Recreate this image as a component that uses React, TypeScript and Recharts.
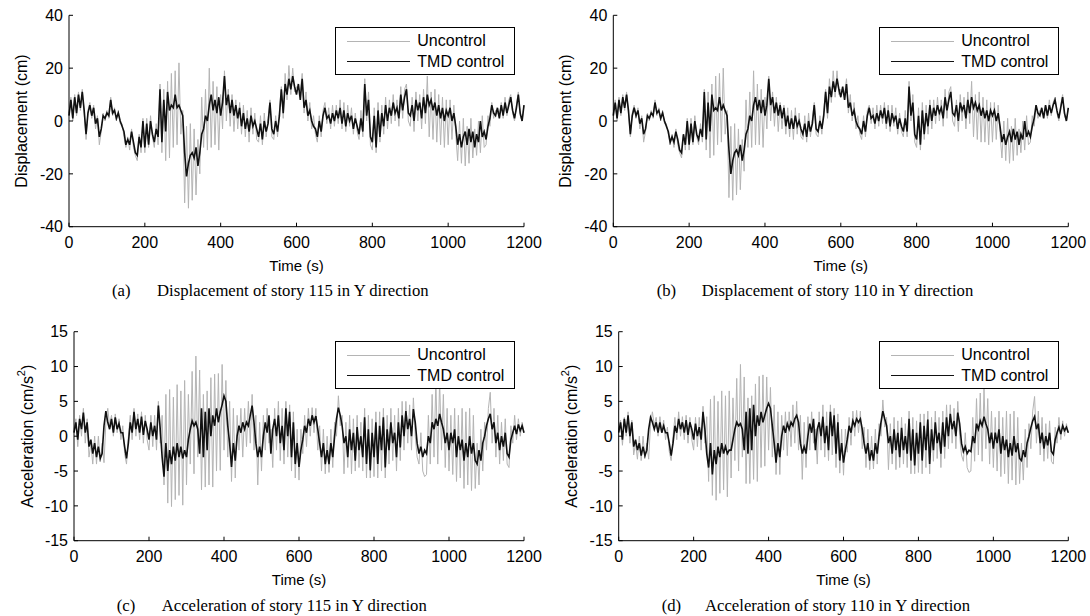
import React from 'react';
import { LineChart, Line, XAxis, YAxis, Legend } from 'recharts';

// sampling interval of the time histories (s)
const SAMPLE_STEP_S = 5;
const TIME_TICKS = [0, 200, 400, 600, 800, 1000, 1200];
const DISP_TICKS = [-40, -20, 0, 20, 40];
const ACC_TICKS = [-15, -10, -5, 0, 5, 10, 15];
const SERIES_NAMES = ['Uncontrol', 'TMD control'];

// (a) displacement, story 115 (cm)
const A_UNC = [
  3, 9, 0, 10, 2, 11, 4, 12, 3, -7, 4, 7, 1, 6, -3, 2, -9, -4, 3, 0,
  4, 1, 9, 2, 5, 0, 4, -1, -1, -6, -10, -6, -11, -3, -10, -13, -15, -5, -12, 1,
  -12, 1, -10, 2, -6, -10, -1, -9, 14, -12, 12, -15, 15, -14, 18, -10, 19, -9, 22, -5,
  4, -31, -2, -33, -1, -30, -3, -28, -7, -20, 9, -10, 12, -11, 20, -10, 15, -9, 13, -11,
  10, -3, 19, 0, 12, -2, 10, -4, 8, -3, 7, -5, 6, -6, 4, -8, 5, -5, 3, -7,
  -8, 2, -9, 3, -6, 1, 8, -6, -7, 2, -6, 4, 13, 1, 18, 8, 21, 10, 20, 11,
  13, 12, 11, 18, 3, 11, 0, 7, -3, 2, -5, -8, 2, -6, 4, 7, -1, 5, -3, 6,
  -2, 6, -1, 8, -3, 7, -4, 6, -2, 5, -5, 3, -4, -7, 4, -6, 16, 0, 11, -9,
  -11, 5, -12, 7, -8, 6, -5, 9, -3, 8, -1, 10, 0, 8, -2, 13, 1, 12, 14, 0,
  -2, 9, -4, 11, 0, 10, -3, 12, -1, 17, -6, 11, -7, 12, -8, 10, -9, 9, -10, 8,
  -9, 8, -7, 6, -5, -15, 0, -16, 1, -17, -2, -16, 1, -14, -3, -13, 0, -12, 2, -10,
  -9, 2, -2, 7, 1, 4, 3, 2, 7, 1, 9, 2, 8, 10, 3, 0, 6, 11, 2, 0,
  6,
];
const A_TMD = [
  2, 8, 1, 9, 3, 10, 5, 11, 4, -5, 3, 6, 2, 5, -1, 1, -6, -3, 2, 1,
  3, 2, 8, 3, 4, 1, 3, 0, -2, -4, -9, -7, -9, -4, -8, -12, -13, -6, -10, 0,
  -10, -1, -9, 0, -5, -8, -3, -6, 12, -8, 8, -4, 11, 4, 6, 5, 10, 5, 6, 4,
  2, -12, -21, -16, -13, -12, -14, -10, -17, -12, -5, -3, 2, 0, 6, 10, 4, 8, 3, 9,
  2, 7, 17, 6, 10, 3, 8, 2, 6, 1, 5, -2, 3, -3, 1, -4, 2, -2, 0, -3,
  -6, -1, -7, 0, -4, -1, 7, -3, -5, 0, -4, 2, 12, 3, 14, 10, 16, 12, 17, 13,
  10, 14, 8, 16, 5, 8, 2, 4, 0, -2, -3, -6, 0, -4, 2, 5, 1, 2, -1, 3,
  0, 4, 1, 5, -1, 4, -2, 3, 0, 2, -3, 1, -2, -5, 1, -4, 14, 2, 8, -6,
  -8, 2, -10, 4, -6, 3, -2, 6, 0, 5, 2, 7, 3, 5, 1, 10, 4, 9, 12, 3,
  2, 6, 0, 8, 4, 7, 1, 9, 3, 10, 6, 8, 4, 7, 2, 6, 1, 5, 0, 4,
  2, 5, 0, 3, -2, -9, -5, -10, -6, -4, -9, -3, -8, -4, -10, -5, -8, 0, -6, -4,
  -7, -2, 1, 6, 3, 2, 5, 1, 6, 2, 7, 3, 6, 9, 4, 1, 5, 10, 3, 0,
  6,
];

// (b) displacement, story 110 (cm)
const B_UNC = [
  3, 8, 0, 9, 2, 10, 4, 11, 3, -6, 3, 6, 1, 5, -3, 2, -8, -4, 3, 0,
  4, 1, 8, 2, 5, 0, 4, -1, -1, -5, -9, -5, -10, -3, -9, -12, -14, -5, -11, 1,
  -11, 1, -9, 2, -6, -9, -1, -8, 12, -11, 11, -14, 14, -13, 17, -9, 18, -8, 20, -5,
  4, -29, -2, -30, -1, -28, -3, -26, -7, -19, 8, -10, 11, -10, 19, -9, 14, -9, 12, -10,
  9, -3, 17, 0, 11, -2, 9, -4, 7, -3, 6, -5, 5, -6, 4, -7, 5, -5, 3, -6,
  -7, 2, -8, 3, -6, 1, 7, -5, -6, 2, -5, 4, 12, 1, 16, 7, 19, 9, 19, 10,
  12, 11, 10, 16, 3, 10, 0, 7, -3, 2, -5, -7, 2, -6, 4, 6, -1, 5, -3, 6,
  -2, 6, -1, 7, -3, 6, -4, 6, -2, 5, -5, 3, -4, -6, 4, -6, 15, 0, 10, -8,
  -10, 5, -11, 7, -7, 6, -5, 8, -3, 8, -1, 9, 0, 8, -2, 12, 1, 11, 13, 0,
  -2, 8, -4, 10, 0, 9, -3, 11, -1, 15, -6, 10, -7, 11, -8, 9, -8, 8, -9, 7,
  -8, 7, -7, 6, -5, -14, 0, -15, 1, -16, -2, -15, 1, -13, -3, -12, 0, -11, 2, -9,
  -8, 2, -2, 6, 1, 4, 3, 2, 6, 1, 8, 2, 7, 9, 3, 0, 6, 10, 2, 0,
  5,
];
const B_TMD = [
  2, 7, 1, 8, 3, 9, 5, 10, 4, -5, 2, 5, 2, 4, -1, 1, -5, -3, 2, 1,
  3, 2, 7, 3, 4, 1, 3, 0, -2, -4, -8, -6, -8, -4, -7, -11, -12, -5, -9, 0,
  -9, -1, -8, 0, -5, -7, -3, -6, 11, -7, 7, -4, 10, 4, 5, 4, 9, 4, 6, 4,
  2, -11, -20, -15, -12, -11, -13, -9, -15, -11, -5, -3, 2, 0, 6, 9, 4, 8, 3, 8,
  2, 6, 16, 6, 9, 3, 7, 2, 6, 1, 5, -2, 2, -3, 1, -3, 2, -2, 0, -3,
  -5, -1, -6, 0, -4, -1, 6, -3, -4, 0, -3, 2, 11, 3, 13, 9, 15, 11, 16, 12,
  9, 13, 8, 14, 5, 7, 2, 4, 0, -2, -3, -5, 0, -4, 2, 5, 1, 2, -1, 3,
  0, 4, 1, 5, -1, 4, -2, 3, 0, 2, -3, 1, -2, -4, 1, -4, 13, 2, 7, -5,
  -7, 2, -9, 4, -5, 3, -2, 6, 0, 5, 2, 6, 3, 5, 1, 9, 4, 8, 11, 3,
  2, 6, 0, 7, 4, 6, 1, 8, 3, 9, 5, 7, 4, 6, 2, 5, 1, 4, 0, 4,
  2, 4, 0, 3, -2, -8, -5, -9, -6, -4, -8, -3, -7, -4, -9, -5, -7, 0, -6, -4,
  -6, -2, 1, 6, 3, 2, 5, 1, 6, 2, 6, 3, 6, 8, 4, 1, 5, 9, 3, 0,
  5,
];

// (c) acceleration, story 115 (cm/s^2)
const C_UNC = [
  1, 2.5, -1.5, 3, 0, 4, -1, 2.5, -3, -1, -4, 0, -4, 0, -3.7, -1, -3.8, 2, 4, 1.5,
  3, 0, 3.2, 0.5, 2.5, -0.5, 1.5, -2.5, -4, 0, 3, -0.5, 4, 0, 3.2, -0.5, 3.5, -1, 3, -0.5,
  -2, 3, -1.5, 3, -2, 5, -1, 3, -7, 6, -9.6, 6.7, -10.1, 5.6, -9.1, 7.4, -8.5, 6.5, -9.9, 8,
  -7, 6, -4, 9.3, -5.4, 11.5, -3, 9.5, -7.7, 6, -7.3, 6.5, -7, 8.4, -7.3, 8.9, -5, 9, -4.9, 10.3,
  -2, 8, -3, 5, -6.5, 4, -6, 3, -2, 4, -3, 4, -1.5, 5, -1, 6, -2, 3, -7, 2,
  -5, 3, -2, 4, -1, 1, -4.5, 4, -2, 5, -3.5, 4, -4, 5, -3, 4.5, -5, 3.5, -6, 1,
  -6.3, 1, -2.5, 3, -1.5, 4, 0, 4.1, 0.5, 4, -2, 1.5, -5, 1, -5.4, 0, -5.2, 1, -4.5, 2,
  0, 5.8, 1.5, 3, -5.4, 2, -4.5, 3, -5.4, 2.5, -5, 3, -4.5, 2, -5, 4, -6, 3, -6, 2.5,
  -5.8, 3.5, -6, 3.5, -5, 4, -6, 3, -4, 4, -3.5, 3, -5, 4, -3.5, 5, -2, 5, -1, 4.5,
  -2, 5.5, 0, -3, -4, 0.5, -5, -5.8, -5.5, 3, -4, 6, -3, 8, -4, 8, -2, 6, -4.5, 4,
  -5, 3, -5.5, 4, -6.5, 3, -6, 4, -7.5, 3.5, -7, 4, -7.8, 3, -7.5, -1, -7, 1, -5, 2,
  -2, 4, 6.3, -1, 4, -3, 3, -4, 2, -3.5, 2.5, -4, -4.5, 1.5, -1, 3, -0.5, 2.5, 0, 2,
  0.5,
];
const C_TMD = [
  0.5, 2, -0.5, 2.5, 1, 3.4, 0.5, 2, -1.5, -0.5, -2.5, -1, -3, -1.5, -3.2, -2.5, 1.5, 3.6, 2, 1,
  2.5, 0.5, 2.7, 1, 1.8, 0.5, 0.5, -1.5, -3.2, -1, 2, 0.5, 3.5, 1, 2.5, 0.5, 2.8, 0.2, 2.2, 1,
  -0.5, 2, 0, 1.5, -0.5, 4.4, 1, -3, -5.8, -1, -5, -2, -4, -1.5, -3.5, -1, -3, -1.5, -3.2, -2,
  -3, -0.5, 1, 2.2, 1.5, 2, 1, -2.5, 4, -3, 3.5, -2, 4, 0, 3, 1.5, 4, 2, 3.5, 4.5,
  5.8, 5, 1.5, -1, -4.4, -1, -3.5, 0, 1.5, 0.5, 2, 1, 2, 1.5, 3, 4.4, 2, -1, -3, -1.5,
  -3, 0, 2, 0.5, 3, -2.5, 1, 2.5, 0, 3, -1, 1.5, -2, 4, 0, 3.5, -3, 2, -4, -1,
  -4.4, -2, -0.5, 1.5, 0.5, 2.5, 1.5, 3, 2, 2.9, 1, -1, -3, -1, -4, -2, -4, -1, -3, 0,
  2.5, 4.1, 3, 1.5, -1, 0, -3, 1, -2, 0.5, -3.5, 1.3, -2, 0, -3, 2.7, -4, 1, -4.9, 0.5,
  -3, 2, -4, 1.5, -2, 2.7, -4.5, 1, -2, 2, -1, 0.5, -3, 2, -1.6, 3, 0, 3.6, 1, 2.5,
  0, 3.9, 2, -1, -2.5, -1.5, -3, -2, -2.5, 0, -1, 2, 1, 2.5, 1.5, 3.2, 2, 1, -1, 0.5,
  -2, 0.5, -1, 1, -3, 0, -2, -0.5, -3.5, -1, -3, 0, -2.5, -1, -3.5, -4, -2, -3.5, -1, 0,
  1.5, 2.5, 3.2, 1, 2, -1, 0.5, -2, 0, -1.5, 0.5, -2.5, -3, -0.5, 0.5, 1.5, 0.3, 1.7, 0.8, 1.5,
  0.5,
];

// (d) acceleration, story 110 (cm/s^2)
const D_UNC = [
  1, 2.3, -1.3, 2.7, 0, 3.5, -1, 2.3, -2.7, -1, -3.3, 0, -3.5, 0, -3.2, -1, -3.3, 1.8, 3.5, 1.5,
  2.7, 0, 2.8, 0.5, 2.3, -0.5, 1.3, -2.2, -3.5, 0, 2.7, -0.5, 3.5, 0, 2.8, -0.5, 3, -1, 2.7, -0.5,
  -2, 2.7, -1.5, 2.7, -2, 4.3, -1, 2.8, -6.5, 5.3, -8.5, 5.8, -9.2, 5, -8.2, 6.5, -7.7, 5.8, -8.7, 6.5,
  -6, 5.5, -3.5, 8.3, -5, 10.3, -3, 8.5, -6.8, 5.5, -6.8, 5.8, -6.2, 7.5, -6.5, 8.6, -4.5, 8.8, -4.3, 8.5,
  -2, 7, -3, 4.5, -5.5, 3.5, -5.5, 3, -2, 3.5, -2.8, 3.5, -1.5, 4.5, -1, 5, -2, 3, -6.2, 2,
  -4.5, 2.8, -2, 3.5, -1, 1, -4, 3.5, -2, 4.5, -3, 3.5, -3.5, 4.5, -2.7, 4, -4.5, 3.2, -5.3, 1,
  -5.6, 1, -2.3, 2.7, -1.3, 3.6, 0, 3.7, 0.5, 3.6, -1.8, 1.3, -4.5, 1, -4.8, 0, -4.7, 1, -4, 1.8,
  0, 5.2, 1.3, 2.7, -4.8, 1.8, -4, 2.7, -4.8, 2.2, -4.5, 2.7, -4, 1.8, -4.5, 3.6, -5.4, 2.7, -5.4, 2.2,
  -5.2, 3.2, -5.4, 3.2, -4.5, 3.6, -5.4, 2.7, -3.6, 3.6, -3.2, 2.7, -4.5, 3.6, -3.2, 4.5, -1.8, 4.5, -1, 4,
  -1.8, 5, 0, -2.7, -3.6, 0.5, -4.5, -5.2, -5, 2.7, -3.6, 5.4, -2.7, 6.2, -3.6, 6.8, -1.8, 5.4, -4, 3.6,
  -4.5, 2.7, -5, 3.6, -5.8, 2.7, -5.4, 3.6, -6.8, 3.2, -6.3, 3.6, -7, 2.7, -6.8, -1, -6.3, 1, -4.5, 1.8,
  -1.8, 3.6, 5.7, -1, 3.6, -2.7, 2.7, -3.6, 1.8, -3.2, 2.2, -3.6, -4, 1.3, -1, 2.7, -0.5, 2.2, 0, 1.8,
  0.5,
];
const D_TMD = [
  0.5, 2, -0.5, 2.5, 0.5, 3, 0, 2, -1.5, -0.5, -2, -1, -2.8, -1.5, -2.8, -2, 1, 2.7, 2, 1,
  2, 0.5, 2, 0.5, 1.5, 0.5, 0.5, -1, -2.8, -1, 1.5, 0.5, 2.5, 1, 2, 0.5, 2.3, 0.2, 2, 1,
  -0.5, 1.8, 0, 1.3, -0.5, 3.5, 1, -2.5, -4.5, -1, -5.5, -2, -4, -1.5, -3, -1, -2.5, -1.5, -2.5, -2,
  -2, -0.5, 1, 2, 1.5, 1.8, 1, -2, 3.5, -2.5, 4, -2, 4.5, 0, 3, 1.5, 3.5, 2, 3, 4,
  4.7, 4, 1.5, -1, -3.8, -1, -3, 0, 1.5, 0.5, 1.8, 1, 2, 1.5, 2.5, 3, 2, -1, -2.5, -1.5,
  -2.5, 0, 1.8, 0.5, 2.5, -2, 1, 2, 0, 2.8, -1, 1.5, -2, 3.5, 0, 3, -2.5, 2, -3.5, -1,
  -3.8, -2, -0.5, 1.5, 0.5, 2.2, 1.5, 2.5, 2, 2.5, 1, -1, -2.5, -1, -3.5, -2, -3.5, -1, -2.5, 0,
  2, 3.6, 2.5, 1.5, -1, 0, -2.5, 1, -2, 0.5, -3, 1.2, -2, 0, -2.5, 2.5, -3.5, 1, -4.2, 0.5,
  -2.5, 2, -3.5, 1.5, -2, 2.4, -4, 1, -2, 2, -1, 0.5, -2.5, 2, -1.5, 2.7, 0, 3.2, 1, 2.2,
  0, 3.4, 1.8, -1, -2.2, -1.5, -2.5, -2, -2.2, 0, -1, 1.8, 1, 2.2, 1.5, 2.8, 1.8, 1, -1, 0.5,
  -1.8, 0.5, -1, 1, -2.5, 0, -2, -0.5, -3, -1, -2.8, 0, -2.3, -1, -3.2, -3.5, -2, -3, -1, 0,
  1.2, 2.2, 2.8, 1, 1.8, -1, 0.5, -1.8, 0, -1.3, 0.5, -2.2, -2.6, -0.5, 0.5, 1.3, 0.3, 1.5, 0.8, 1.3,
  0.5,
];

const SANS = '"Liberation Sans", Arial, Helvetica, sans-serif';
const SERIF = '"Liberation Serif", "Times New Roman", serif';
const UNC_COLOR = '#b4b4b4';
const TMD_COLOR = '#111111';

type Box = { x: number; y: number; w: number; h: number };

type PanelProps = {
  left: number;
  top: number;
  width: number;
  height: number;
  plot: Box;
  unc: number[];
  tmd: number[];
  yDomain: [number, number];
  yTicks: number[];
  kind: 'disp' | 'acc';
  yLabelX: number;
  legend: { x: number; y: number };
  tag: string;
  tagX: number;
  captionText: string;
  captionX: number;
  captionY: number;
};

function LegendBox() {
  return (
    <div
      style={{
        position: 'relative',
        width: 180,
        height: 48,
        boxSizing: 'border-box',
        border: '1px solid #000',
        background: '#fff',
        fontFamily: SANS,
        fontSize: 16,
        color: '#000',
      }}
    >
      <div style={{ position: 'absolute', left: 11, top: 13, width: 63, borderTop: `1px solid ${UNC_COLOR}` }} />
      <div style={{ position: 'absolute', left: 81, top: 4, lineHeight: '18px', whiteSpace: 'nowrap' }}>{SERIES_NAMES[0]}</div>
      <div style={{ position: 'absolute', left: 11, top: 33, width: 63, borderTop: `1.6px solid ${TMD_COLOR}` }} />
      <div style={{ position: 'absolute', left: 81, top: 25, lineHeight: '18px', whiteSpace: 'nowrap' }}>{SERIES_NAMES[1]}</div>
    </div>
  );
}

function Panel(p: PanelProps) {
  const n = Math.min(p.unc.length, p.tmd.length);
  const data: { t: number; unc: number; tmd: number }[] = [];
  for (let i = 0; i < n; i++) data.push({ t: i * SAMPLE_STEP_S, unc: p.unc[i], tmd: p.tmd[i] });

  const xAxisH = 40;
  const margin = {
    top: p.plot.y,
    left: 0,
    right: p.width - p.plot.x - p.plot.w,
    bottom: p.height - p.plot.y - p.plot.h - xAxisH,
  };
  const cx = p.plot.x + p.plot.w / 2;
  const cy = p.plot.y + p.plot.h / 2;

  const xLabel = () => (
    <g>
      <text x={cx} y={p.plot.y + p.plot.h + 38.5} textAnchor="middle" dominantBaseline="central" fontFamily={SANS} fontSize={15} fill="#000">
        Time (s)
      </text>
      <text x={p.tagX} y={p.captionY} dominantBaseline="central" fontFamily={SERIF} fontSize={16.7} fill="#000">
        {p.tag}
      </text>
      <text x={p.captionX} y={p.captionY} dominantBaseline="central" fontFamily={SERIF} fontSize={16.7} fill="#000">
        {p.captionText}
      </text>
    </g>
  );

  const yLabel = () => (
    <text
      x={p.yLabelX}
      y={cy}
      transform={`rotate(-90 ${p.yLabelX} ${cy})`}
      textAnchor="middle"
      dominantBaseline="central"
      fontFamily={SANS}
      fontSize={16}
      fill="#000"
    >
      {p.kind === 'disp' ? (
        'Displacement (cm)'
      ) : (
        <>
          <tspan>Acceleration (cm/s</tspan>
          <tspan dy={-6} fontSize={11}>2</tspan>
          <tspan dy={6}>)</tspan>
        </>
      )}
    </text>
  );

  const axisStroke = { stroke: '#000', strokeWidth: 1 };

  return (
    <div style={{ position: 'absolute', left: p.left, top: p.top }}>
      <LineChart width={p.width} height={p.height} data={data} margin={margin}>
        <XAxis
          dataKey="t"
          type="number"
          domain={[0, 1200]}
          ticks={TIME_TICKS}
          interval={0}
          height={xAxisH}
          tickSize={-4}
          tickMargin={14}
          axisLine={axisStroke}
          tickLine={axisStroke}
          tick={{ fontSize: 16, fill: '#000', fontFamily: SANS }}
          label={{ content: xLabel }}
        />
        <XAxis
          xAxisId="top"
          orientation="top"
          type="number"
          domain={[0, 1200]}
          ticks={TIME_TICKS}
          interval={0}
          height={0}
          tickSize={-4}
          tick={false}
          axisLine={axisStroke}
          tickLine={axisStroke}
        />
        <YAxis
          type="number"
          domain={p.yDomain}
          ticks={p.yTicks}
          interval={0}
          width={p.plot.x}
          tickSize={-4}
          tickMargin={10}
          axisLine={axisStroke}
          tickLine={axisStroke}
          tick={{ fontSize: 16, fill: '#000', fontFamily: SANS }}
          label={{ content: yLabel }}
        />
        <YAxis
          yAxisId="right"
          orientation="right"
          type="number"
          domain={p.yDomain}
          ticks={p.yTicks}
          interval={0}
          width={0}
          tickSize={-4}
          tick={false}
          axisLine={axisStroke}
          tickLine={axisStroke}
        />
        <Legend
          layout="horizontal"
          verticalAlign="middle"
          align="center"
          width={180}
          height={48}
          wrapperStyle={{ left: p.legend.x, top: p.legend.y, width: 180, height: 48 }}
          content={() => <LegendBox />}
        />
        <Line type="linear" dataKey="unc" name={SERIES_NAMES[0]} stroke={UNC_COLOR} strokeWidth={1} dot={false} activeDot={false} isAnimationActive={false} />
        <Line type="linear" dataKey="tmd" name={SERIES_NAMES[1]} stroke={TMD_COLOR} strokeWidth={1.6} dot={false} activeDot={false} isAnimationActive={false} />
      </LineChart>
    </div>
  );
}

export default function App() {
  return (
    <div style={{ position: 'absolute', left: 0, top: 0, width: 1090, height: 616, background: '#fff', overflow: 'hidden' }}>
      <Panel
        left={0}
        top={0}
        width={545}
        height={300}
        plot={{ x: 69, y: 15.3, w: 455, h: 211.4 }}
        unc={A_UNC}
        tmd={A_TMD}
        yDomain={[-40, 40]}
        yTicks={DISP_TICKS}
        kind="disp"
        yLabelX={21}
        legend={{ x: 335.3, y: 26.7 }}
        tag="(a)"
        tagX={112}
        captionText="Displacement of story 115 in Y direction"
        captionX={157}
        captionY={290}
      />
      <Panel
        left={545}
        top={0}
        width={545}
        height={300}
        plot={{ x: 68.3, y: 15.3, w: 455, h: 211.4 }}
        unc={B_UNC}
        tmd={B_TMD}
        yDomain={[-40, 40]}
        yTicks={DISP_TICKS}
        kind="disp"
        yLabelX={20}
        legend={{ x: 334.3, y: 26.7 }}
        tag="(b)"
        tagX={111.7}
        captionText="Displacement of story 110 in Y direction"
        captionX={156.7}
        captionY={290}
      />
      <Panel
        left={0}
        top={300}
        width={545}
        height={316}
        plot={{ x: 74, y: 31.7, w: 450, h: 209 }}
        unc={C_UNC}
        tmd={C_TMD}
        yDomain={[-15, 15]}
        yTicks={ACC_TICKS}
        kind="acc"
        yLabelX={27}
        legend={{ x: 335.3, y: 40.7 }}
        tag="(c)"
        tagX={116.7}
        captionText="Acceleration of story 115 in Y direction"
        captionX={161.7}
        captionY={305}
      />
      <Panel
        left={545}
        top={300}
        width={545}
        height={316}
        plot={{ x: 73.7, y: 31.7, w: 449.6, h: 209 }}
        unc={D_UNC}
        tmd={D_TMD}
        yDomain={[-15, 15]}
        yTicks={ACC_TICKS}
        kind="acc"
        yLabelX={26}
        legend={{ x: 334.3, y: 40.7 }}
        tag="(d)"
        tagX={116.7}
        captionText="Acceleration of story 110 in Y direction"
        captionX={160}
        captionY={305}
      />
    </div>
  );
}
